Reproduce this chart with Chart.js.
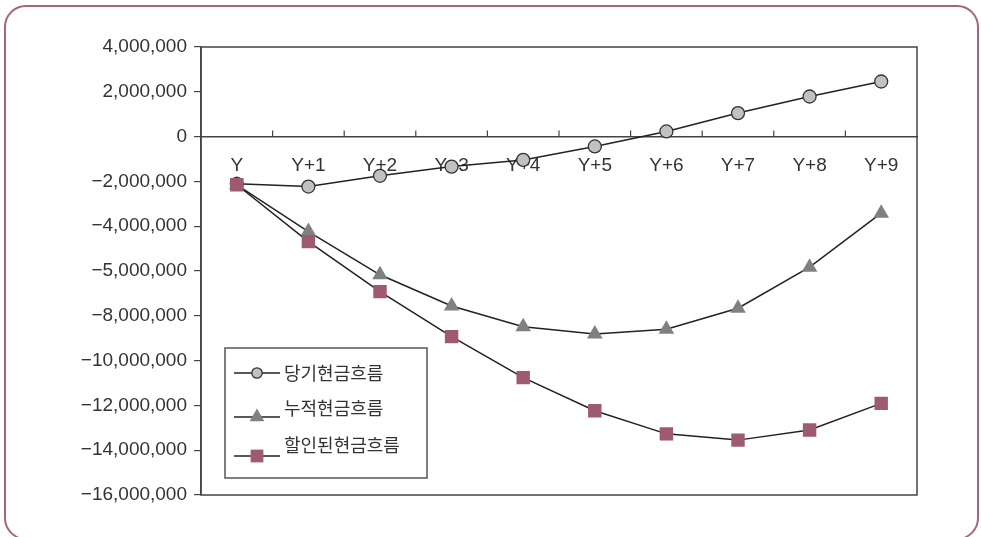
<!DOCTYPE html>
<html>
<head>
<meta charset="utf-8">
<script src="https://cdn.jsdelivr.net/npm/chart.js@4/dist/chart.umd.min.js"></script>
<style>
  html, body { margin: 0; padding: 0; background: #fff; overflow: hidden; }
  #wrap { position: relative; width: 981px; height: 537px; }
  #frame {
    position: absolute; left: 4px; top: 5px; width: 971px; height: 531px;
    border: 2px solid #a5647c; border-radius: 22px; pointer-events: none;
  }
</style>
</head>
<body>
<div id="wrap">
  <canvas id="cash-chart" width="981" height="537"></canvas>
  <div id="frame"></div>
</div>
<script>
// 데이터
const years = ['Y', 'Y+1', 'Y+2', 'Y+3', 'Y+4', 'Y+5', 'Y+6', 'Y+7', 'Y+8', 'Y+9'];
const seriesNames = ['당기현금흐름', '누적현금흐름', '할인된현금흐름'];
const currentFlow = [-2110000, -2230000, -1750000, -1340000, -1040000, -440000, 230000, 1050000, 1790000, 2460000];
const cumulativeFlow = [-2150000, -4240000, -6170000, -7560000, -8490000, -8810000, -8600000, -7660000, -5830000, -3420000];
const discountedFlow = [-2150000, -4690000, -6920000, -8930000, -10760000, -12240000, -13270000, -13550000, -13100000, -11910000];
// 눈금 라벨 (아래에서 위로)
const yTickLabels = ['−16,000,000', '−14,000,000', '−12,000,000', '−10,000,000', '−8,000,000',
  '−5,000,000', '−4,000,000', '−2,000,000', '0', '2,000,000', '4,000,000'];

const latin = "'Liberation Sans', Arial, sans-serif";
const hangul = "'Noto Sans CJK KR', sans-serif";

// 그림 영역 테두리 + x축 위쪽 눈금
const frameBox = {
  id: 'frameBox',
  afterDatasetsDraw(chart) {
    const { ctx, chartArea: a, scales } = chart;
    ctx.save();
    ctx.strokeStyle = '#444';
    ctx.lineWidth = 1.5;
    ctx.strokeRect(a.left, a.top, a.right - a.left, a.bottom - a.top);
    const y0 = scales.y.getPixelForValue(0);
    ctx.lineWidth = 1.2;
    for (let i = 0; i < years.length - 1; i++) {
      const x = (scales.x.getPixelForValue(i) + scales.x.getPixelForValue(i + 1)) / 2;
      ctx.beginPath();
      ctx.moveTo(x, y0);
      ctx.lineTo(x, y0 - 6);
      ctx.stroke();
    }
    ctx.restore();
  }
};

// 범례 박스 (그림 영역 왼쪽 아래)
const legendBox = {
  id: 'legendBox',
  afterDraw(chart) {
    const { ctx, chartArea: a } = chart;
    const left = a.left + 24, top = a.bottom - 147;
    const rows = [{ line: 25, text: 25 }, { line: 69, text: 60 }, { line: 108, text: 97 }];
    ctx.save();
    ctx.fillStyle = '#fff';
    ctx.fillRect(left, top, 202, 130);
    ctx.strokeStyle = '#555';
    ctx.lineWidth = 1.5;
    ctx.strokeRect(left, top, 202, 130);
    chart.data.datasets.forEach((ds, i) => {
      const ly = top + rows[i].line;
      ctx.strokeStyle = '#222';
      ctx.lineWidth = 1.3;
      ctx.beginPath();
      ctx.moveTo(left + 9, ly);
      ctx.lineTo(left + 55, ly);
      ctx.stroke();

      ctx.fillStyle = ds.pointBackgroundColor;
      ctx.strokeStyle = ds.pointBorderColor;
      ctx.lineWidth = ds.pointBorderWidth;
      Chart.helpers.drawPoint(ctx, {
        pointStyle: ds.pointStyle,
        radius: ds.pointRadius * (i === 0 ? 0.8 : 0.95),
        borderWidth: ds.pointBorderWidth,
        rotation: 0
      }, left + 32, ly);

      ctx.fillStyle = '#333';
      ctx.font = '18px ' + hangul;
      ctx.textBaseline = 'middle';
      ctx.fillText(ds.label, left + 59, top + rows[i].text);
    });
    ctx.restore();
  }
};

new Chart(document.getElementById('cash-chart'), {
  type: 'line',
  data: {
    labels: years,
    datasets: [
      {
        label: seriesNames[0], data: currentFlow,
        borderColor: '#222', borderWidth: 1.5,
        pointStyle: 'circle', pointRadius: 6.5, pointBorderWidth: 1.3,
        pointBackgroundColor: '#c0c1c4', pointBorderColor: '#333', order: 1
      },
      {
        label: seriesNames[1], data: cumulativeFlow,
        borderColor: '#222', borderWidth: 1.5,
        pointStyle: 'triangle', pointRadius: 9, pointBorderWidth: 0,
        pointBackgroundColor: '#7f8083', pointBorderColor: '#7f8083', order: 2
      },
      {
        label: seriesNames[2], data: discountedFlow,
        borderColor: '#222', borderWidth: 1.5,
        pointStyle: 'rect', pointRadius: 9.5, pointBorderWidth: 0,
        pointBackgroundColor: '#9e5b6f', pointBorderColor: '#9e5b6f', order: 0
      }
    ]
  },
  options: {
    responsive: false,
    animation: false,
    layout: { padding: { left: 0, top: 47, right: 64, bottom: 42 } },
    plugins: { legend: { display: false }, tooltip: { enabled: false } },
    scales: {
      x: {
        type: 'category',
        position: { y: 0 },
        offset: true,
        grid: { display: false },
        border: { display: true, color: '#444', width: 1.5 },
        ticks: { color: '#333', font: { family: latin, size: 19 }, padding: 10, maxRotation: 0 }
      },
      y: {
        min: -16000000, max: 4000000,
        afterFit(scale) { scale.width = 201; },
        grid: { drawOnChartArea: false, drawTicks: true, tickLength: 7, color: '#444', lineWidth: 1.2 },
        border: { display: true, color: '#444', width: 1.5 },
        ticks: {
          stepSize: 2000000, color: '#333', padding: 7,
          font: { family: latin, size: 19 },
          callback: (value, index) => yTickLabels[index]
        }
      }
    }
  },
  plugins: [frameBox, legendBox]
});
</script>
</body>
</html>
